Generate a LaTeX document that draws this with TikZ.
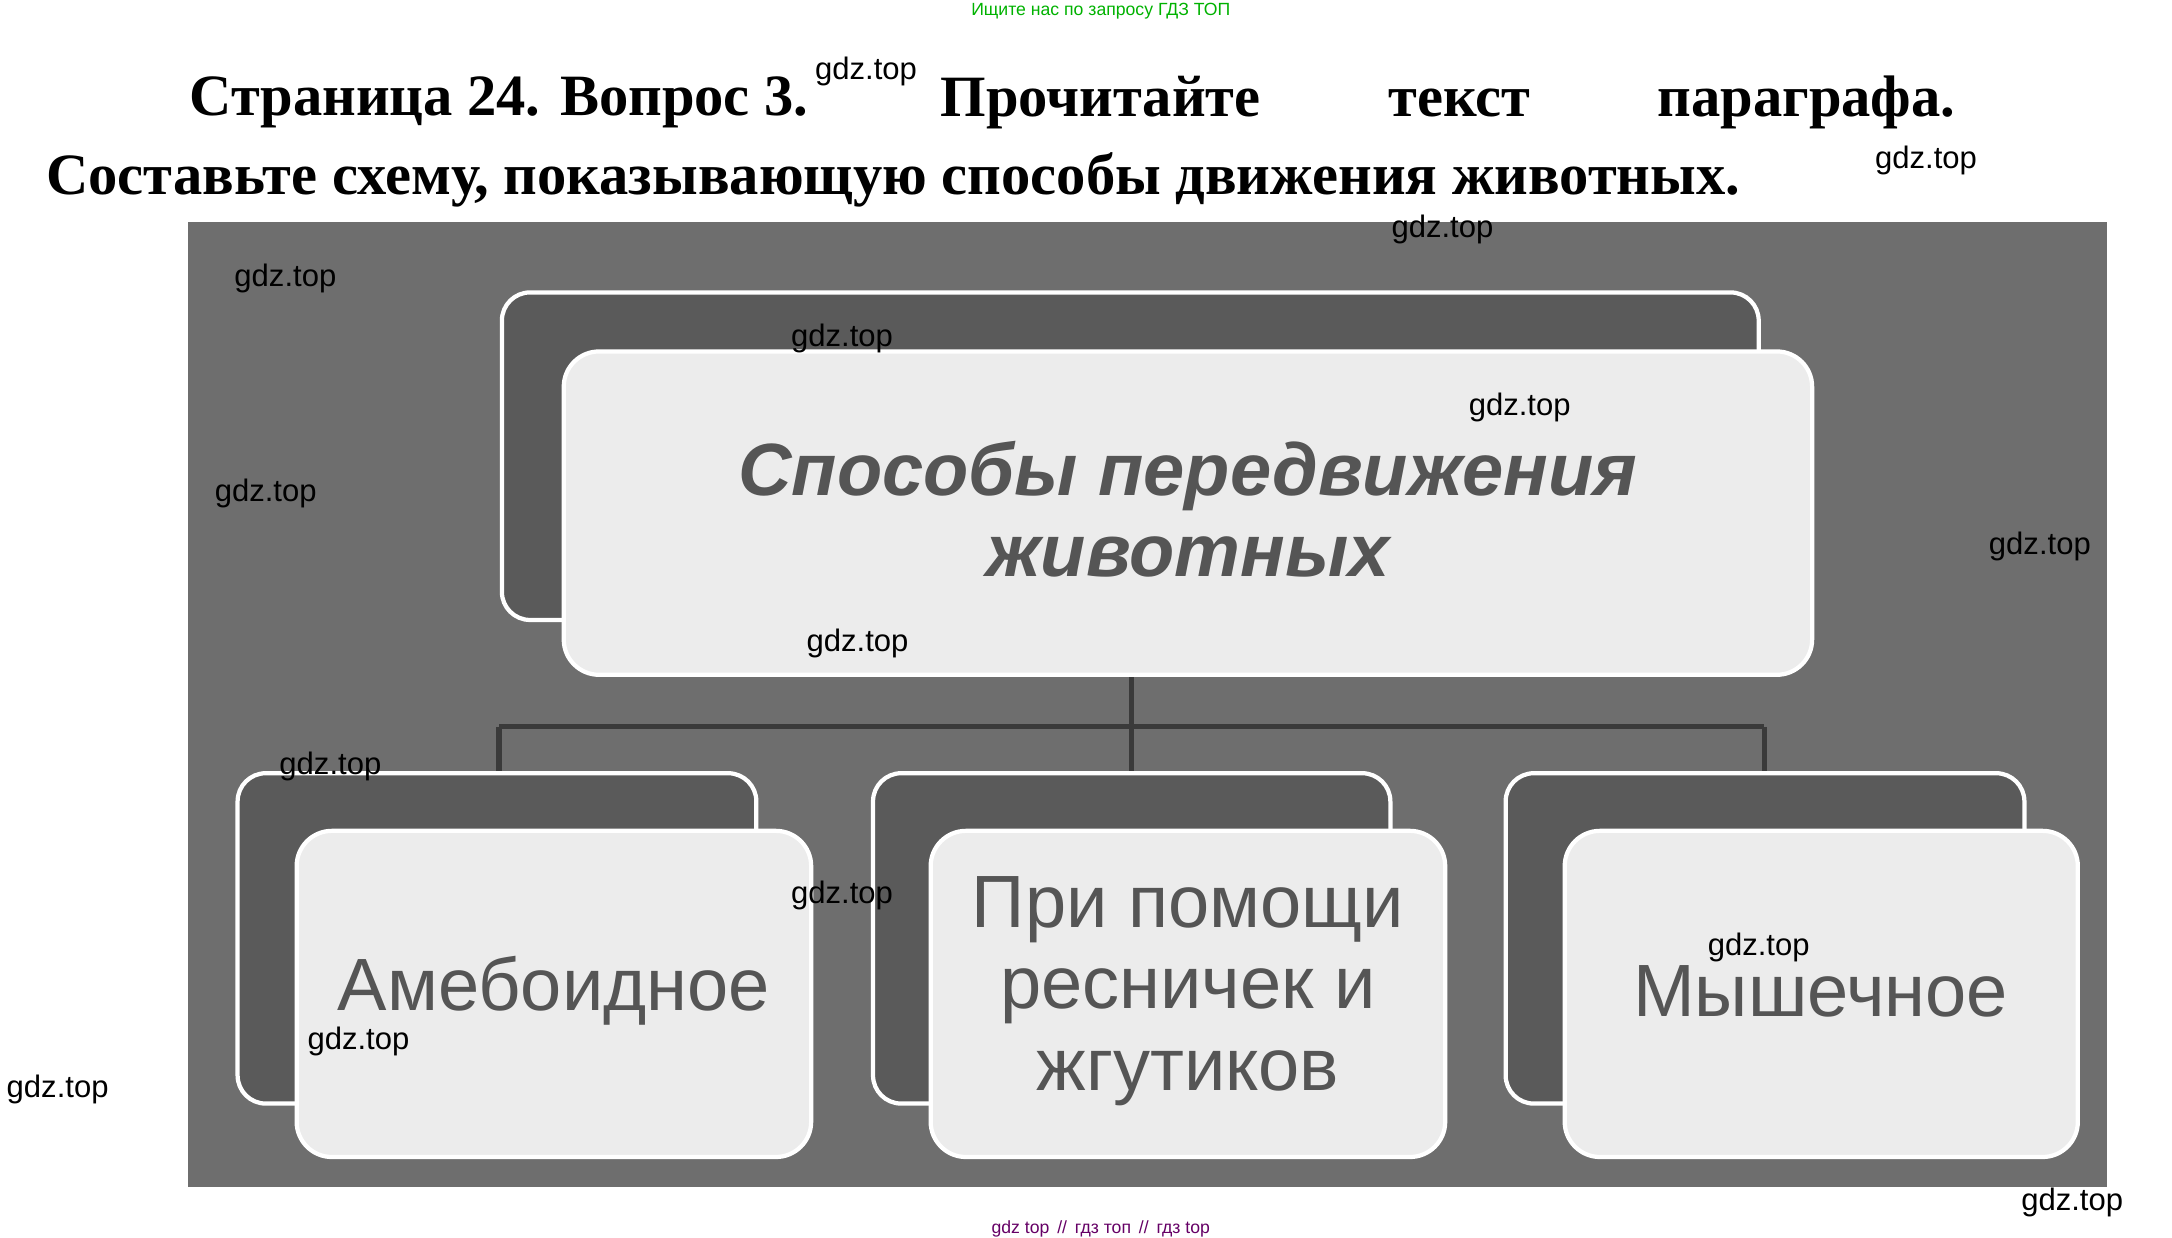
\documentclass[tikz,border=0pt]{standalone}
\usepackage{fontspec}
\setmainfont{Liberation Serif}
\setsansfont{Liberation Sans}
\begin{document}
\begin{tikzpicture}[x=0.3986pt,y=-0.3986pt,
  wm/.style={font=\sffamily\fontsize{8.8}{10}\selectfont,text=black},
  ttl/.style={font=\rmfamily\bfseries\fontsize{16.6}{18}\selectfont,text=black},
  back/.style={draw=white,line width=1.2pt,fill=backgray,rounded corners=8pt},
  front/.style={draw=white,line width=1.2pt,fill=frontgray,rounded corners=10pt},
  conn/.style={draw=linegray,line width=1.5pt},
  boxtxt/.style={font=\sffamily\fontsize{21}{23}\selectfont,text=txtgray,align=center}]
\definecolor{bggray}{HTML}{6E6E6E}
\definecolor{backgray}{HTML}{5A5A5A}
\definecolor{frontgray}{HTML}{ECECEC}
\definecolor{linegray}{HTML}{3A3A3A}
\definecolor{txtgray}{HTML}{555555}
\useasboundingbox (0,0) rectangle (1545,880);
\fill[white] (0,0) rectangle (1545,880);
\node[font=\sffamily\fontsize{5}{6}\selectfont,text=green!70!black] (top) at (783,8) {Ищите нас по запросу ГДЗ ТОП};
\node[ttl] (t1) at (355,73) {Страница 24. Вопрос 3.};
\node[ttl] (t2) at (783,73) {Прочитайте};
\node[ttl] (t3) at (1038,73) {текст};
\node[ttl] (t4) at (1285,73) {параграфа.};
\node[ttl,anchor=west] (t5) at (24,128) {Составьте схему, показывающую способы движения животных.};
\fill[bggray] (134,158) rectangle (1499,844);
% connectors
\coordinate (j) at (805,517);
\coordinate (jl) at (355,517);
\coordinate (jr) at (1255,517);
\draw[conn] (805,480) -- (j);
\draw[conn] (jl) -- (jr);
\draw[conn] (jl) -- (355,550);
\draw[conn] (j) -- (805,550);
\draw[conn] (jr) -- (1255,550);
% top
\draw[back] (357,208) rectangle (1251,441);
\draw[front] (401,250) rectangle (1289,480);
\node[font=\sffamily\bfseries\itshape\fontsize{21}{23}\selectfont,text=txtgray,align=center] (main) at (845,362) {Способы передвижения\\животных};
% bottom
\draw[back] (169,550) rectangle (538,785);
\draw[front] (211,591) rectangle (577,823);
\draw[back] (621,550) rectangle (989,785);
\draw[front] (662,591) rectangle (1028,823);
\draw[back] (1071,550) rectangle (1440,785);
\draw[front] (1113,591) rectangle (1478,823);
\node[boxtxt] (a) at (394,705) {Амебоидное};
\node[boxtxt] (b) at (845,705) {При помощи\\ресничек и\\жгутиков};
\node[boxtxt] (c) at (1295,705) {Мышечное};
% watermarks
\node[wm] (w1) at (616,51) {gdz.top};
\node[wm] (w2) at (1370,114) {gdz.top};
\node[wm] (w3) at (1026,163) {gdz.top};
\node[wm] (w4) at (203,198) {gdz.top};
\node[wm] (w5) at (599,241) {gdz.top};
\node[wm] (w6) at (1081,290) {gdz.top};
\node[wm] (w7) at (189,351) {gdz.top};
\node[wm] (w8) at (1451,389) {gdz.top};
\node[wm] (w9) at (610,458) {gdz.top};
\node[wm] (w10) at (235,545) {gdz.top};
\node[wm] (w11) at (599,637) {gdz.top};
\node[wm] (w12) at (1251,674) {gdz.top};
\node[wm] (w13) at (255,741) {gdz.top};
\node[wm] (w14) at (41,775) {gdz.top};
\node[wm] (w15) at (1474,855) {gdz.top};
\node[font=\sffamily\fontsize{5}{6}\selectfont,text=violet!80!black,inner sep=1pt] (bot) at (783,874) {gdz top \,//\, гдз топ \,//\, гдз top};
\end{tikzpicture}
\end{document}
